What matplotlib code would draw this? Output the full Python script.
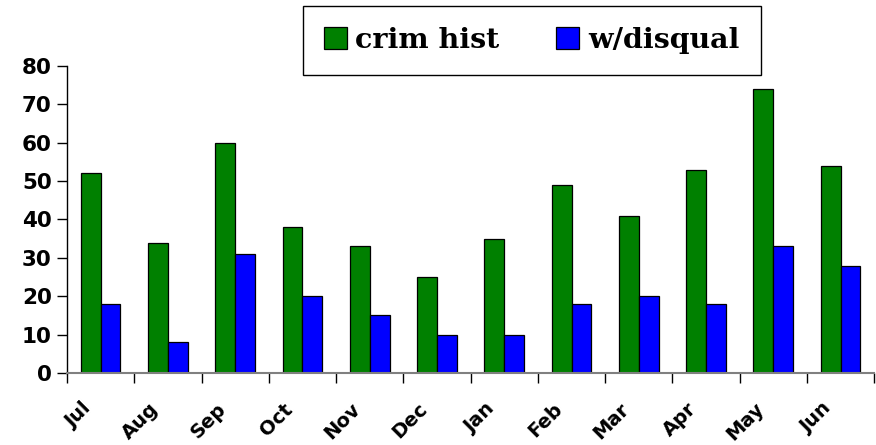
import matplotlib
matplotlib.use('Agg')
import matplotlib.pyplot as plt
import matplotlib.transforms as mtransforms
import numpy as np

months = ['Jul', 'Aug', 'Sep', 'Oct', 'Nov', 'Dec', 'Jan', 'Feb', 'Mar', 'Apr', 'May', 'Jun']
crim_hist = [52, 34, 60, 38, 33, 25, 35, 49, 41, 53, 74, 54]
w_disqual = [18, 8, 31, 20, 15, 10, 10, 18, 20, 18, 33, 28]

fig = plt.figure(figsize=(8.76, 4.45), dpi=100)
ax = fig.add_axes([0.0765, 0.1618, 0.9215, 0.69])

x = np.arange(len(months))
w = 0.295
ax.bar(x - w / 2, crim_hist, w, color='#008000', edgecolor='black', linewidth=0.9, label='crim hist')
ax.bar(x + w / 2, w_disqual, w, color='#0000ff', edgecolor='black', linewidth=0.9, label='w/disqual')

ax.set_xlim(-0.5, len(months) - 0.5)
ax.set_ylim(0, 80)
ax.set_yticks(range(0, 81, 10))
ax.set_xticks(x)
ax.set_xticklabels(months, rotation=45, ha='right', rotation_mode='anchor',
                   fontsize=14, fontweight='bold', family='DejaVu Sans')
ax.set_xticks(np.arange(len(months) + 1) - 0.5, minor=True)
ax.tick_params(axis='x', which='major', length=0, pad=19)
ax.tick_params(axis='x', which='minor', length=7, width=1, color='black', direction='out')
ax.tick_params(axis='y', length=7, width=1, direction='out', labelsize=15.5, pad=4)
for t in ax.get_yticklabels():
    t.set_fontweight('bold')
# shift month labels left so they sit like the original
shift = mtransforms.ScaledTranslation(-0.19, 0, fig.dpi_scale_trans)
for t in ax.get_xticklabels():
    t.set_transform(t.get_transform() + shift)

for s in ['top', 'right']:
    ax.spines[s].set_visible(False)
ax.spines['bottom'].set_color('#808080')
ax.spines['bottom'].set_linewidth(1.5)
ax.spines['left'].set_color('black')
ax.spines['left'].set_linewidth(1)

leg = fig.legend(loc='center', bbox_to_anchor=(0.6068, 0.909), ncol=2, fancybox=False,
                 edgecolor='black', framealpha=1, handlelength=0.8, handleheight=0.8,
                 handletextpad=0.3, columnspacing=2.0, borderpad=0.75,
                 prop={'family': 'DejaVu Serif', 'weight': 'bold', 'size': 20.5})
leg.get_frame().set_linewidth(1)

fig.savefig('out.png', dpi=100)
